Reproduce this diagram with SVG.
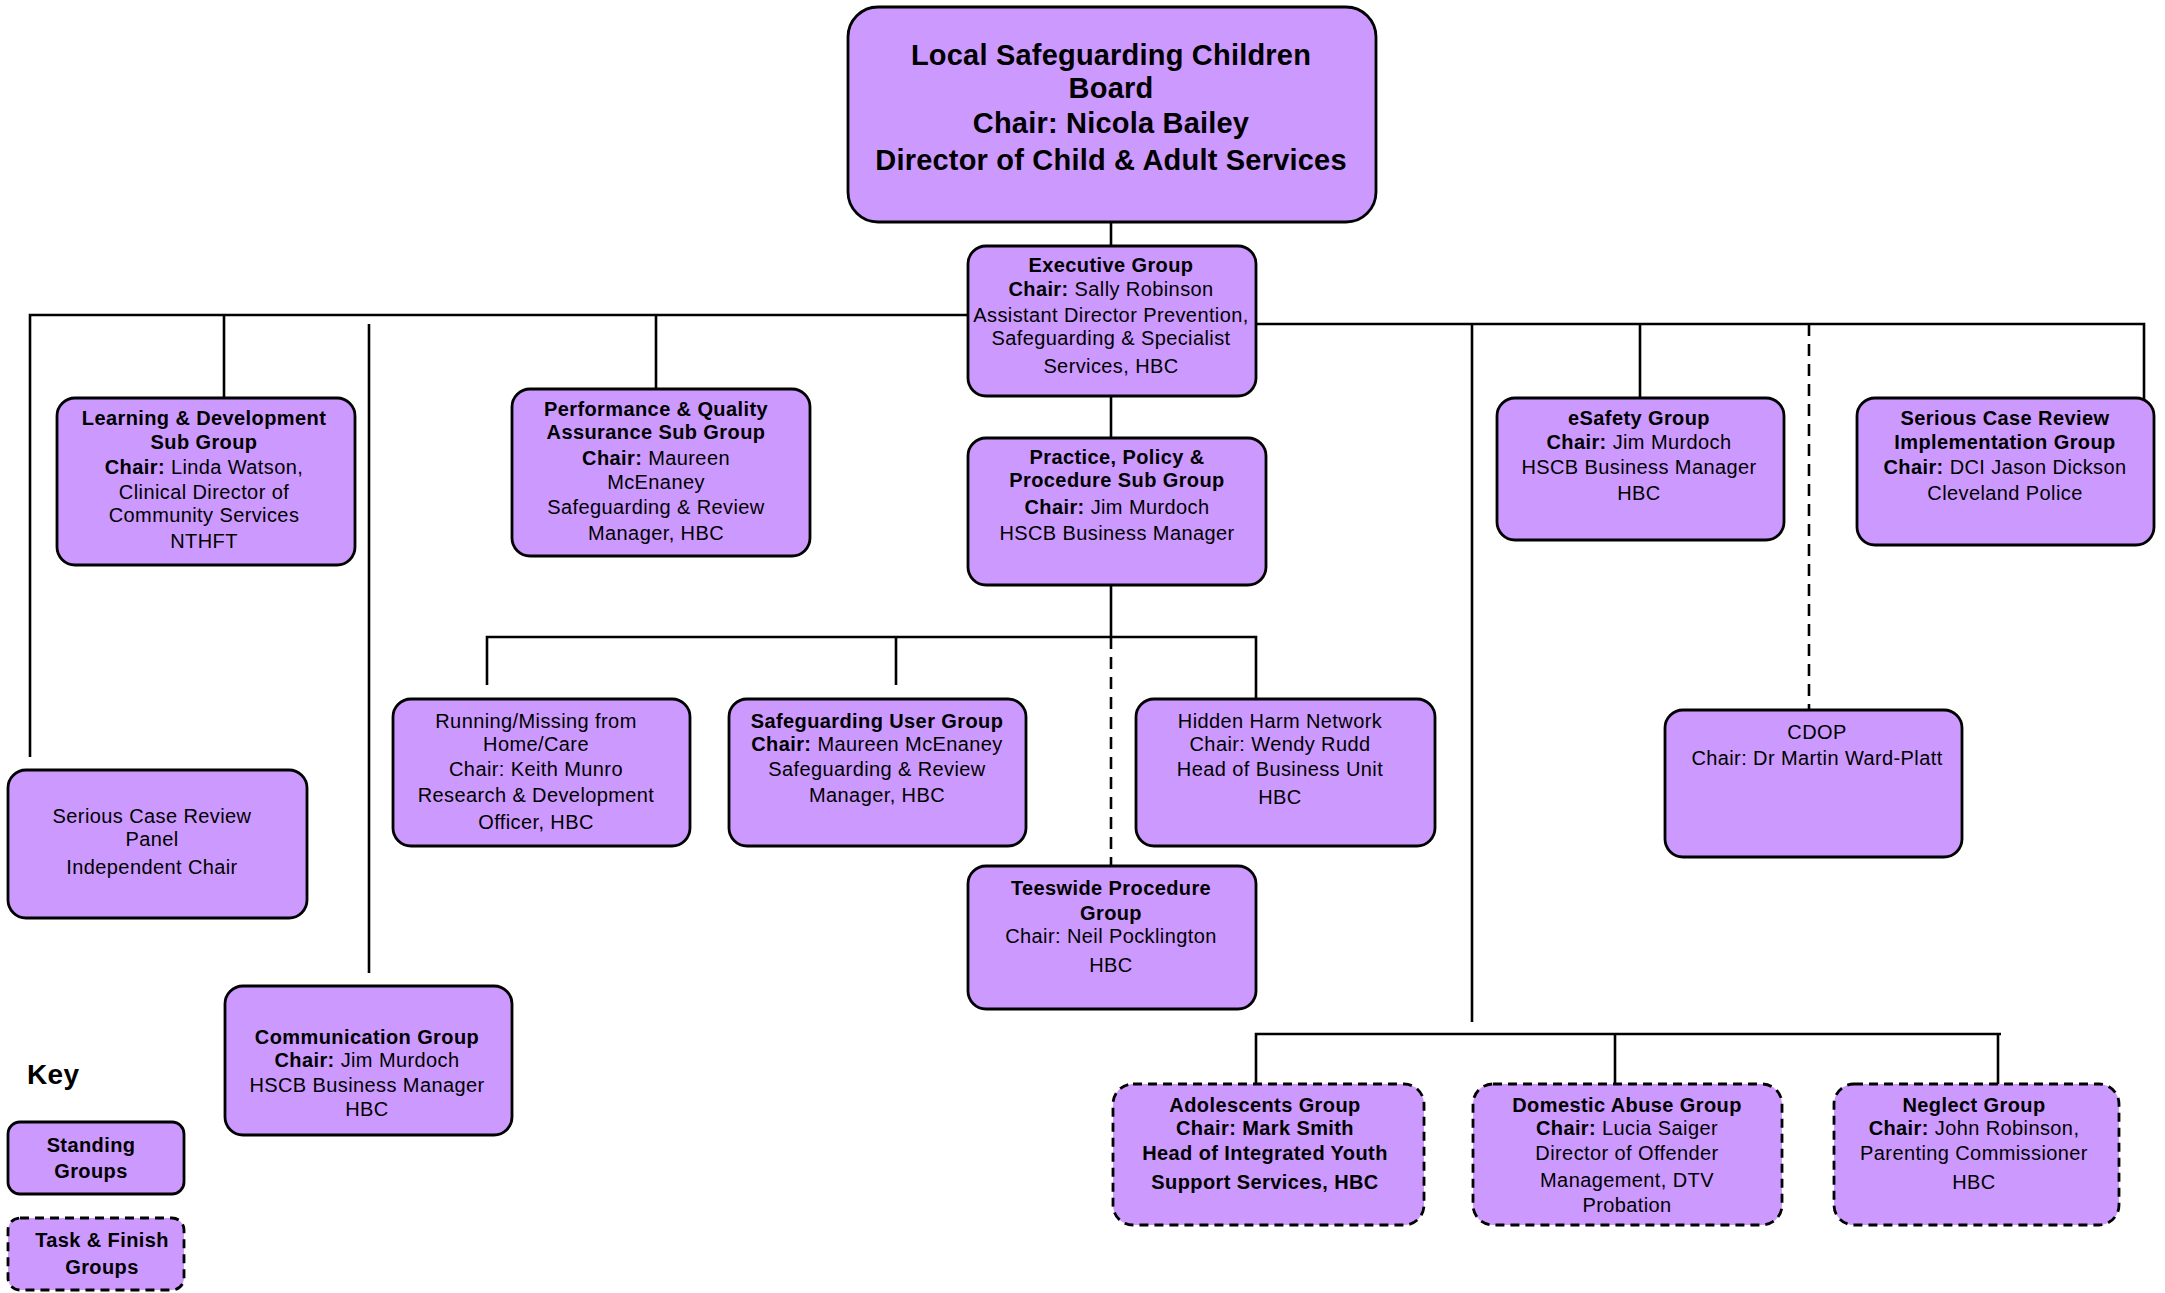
<svg xmlns="http://www.w3.org/2000/svg" width="2165" height="1293" viewBox="0 0 2165 1293">
<style>
.box{fill:#CC99FF;stroke:#000;stroke-width:2.8}
.tf{fill:#CC99FF;stroke:#000;stroke-width:2.8;stroke-dasharray:9 6}
.ln{fill:none;stroke:#000;stroke-width:2.6}
.dl{fill:none;stroke:#000;stroke-width:2.6;stroke-dasharray:12 8}
text{font-family:"Liberation Sans",Arial,sans-serif;font-size:20px;letter-spacing:0.4px;fill:#000;text-anchor:middle}
.b{font-weight:bold}
.big{font-size:29px;font-weight:bold;letter-spacing:0.2px}
.key{font-size:28px;font-weight:bold;text-anchor:start}
</style>
<rect width="2165" height="1293" fill="#fff"/>
<g id="connectors">
<line class="ln" x1="1111" y1="222" x2="1111" y2="246"/>
<line class="ln" x1="1111" y1="396" x2="1111" y2="438"/>
<polyline class="ln" points="968,315 30,315 30,757"/>
<line class="ln" x1="224" y1="315" x2="224" y2="398"/>
<line class="ln" x1="656" y1="315" x2="656" y2="389"/>
<line class="ln" x1="369" y1="324" x2="369" y2="973"/>
<polyline class="ln" points="1256,324 2144,324 2144,400"/>
<line class="ln" x1="1640" y1="324" x2="1640" y2="398"/>
<line class="dl" x1="1809" y1="324" x2="1809" y2="710"/>
<line class="ln" x1="1472" y1="324" x2="1472" y2="1022"/>
<polyline class="ln" points="1256,1084 1256,1034 2001,1034"/>
<line class="ln" x1="1615" y1="1034" x2="1615" y2="1084"/>
<line class="ln" x1="1998" y1="1034" x2="1998" y2="1084"/>
<line class="ln" x1="1111" y1="585" x2="1111" y2="637"/>
<polyline class="ln" points="487,685 487,637 1256,637 1256,699"/>
<line class="ln" x1="896" y1="637" x2="896" y2="685"/>
<line class="dl" x1="1111" y1="637" x2="1111" y2="866"/>
</g>
<g id="lscb">
<rect class="box" x="848" y="7" width="528" height="215" rx="30"/>
<text class="big" x="1111" y="65">Local Safeguarding Children</text>
<text class="big" x="1111" y="98">Board</text>
<text class="big" x="1111" y="133">Chair: Nicola Bailey</text>
<text class="big" x="1111" y="170">Director of Child &amp; Adult Services</text>
</g>
<g id="executive">
<rect class="box" x="968" y="246" width="288" height="150" rx="18"/>
<text class="b" x="1111" y="272">Executive Group</text>
<text x="1111" y="296"><tspan class="b">Chair:</tspan> Sally Robinson</text>
<text x="1111" y="322">Assistant Director Prevention,</text>
<text x="1111" y="345">Safeguarding &amp; Specialist</text>
<text x="1111" y="373">Services, HBC</text>
</g>
<g id="learning">
<rect class="box" x="57" y="398" width="298" height="167" rx="18"/>
<text class="b" x="204" y="425">Learning &amp; Development</text>
<text class="b" x="204" y="449">Sub Group</text>
<text x="204" y="474"><tspan class="b">Chair:</tspan> Linda Watson,</text>
<text x="204" y="499">Clinical Director of</text>
<text x="204" y="522">Community Services</text>
<text x="204" y="548">NTHFT</text>
</g>
<g id="performance">
<rect class="box" x="512" y="389" width="298" height="167" rx="18"/>
<text class="b" x="656" y="416">Performance &amp; Quality</text>
<text class="b" x="656" y="439">Assurance Sub Group</text>
<text x="656" y="465"><tspan class="b">Chair:</tspan> Maureen</text>
<text x="656" y="489">McEnaney</text>
<text x="656" y="514">Safeguarding &amp; Review</text>
<text x="656" y="540">Manager, HBC</text>
</g>
<g id="practice">
<rect class="box" x="968" y="438" width="298" height="147" rx="18"/>
<text class="b" x="1117" y="464">Practice, Policy &amp;</text>
<text class="b" x="1117" y="487">Procedure Sub Group</text>
<text x="1117" y="514"><tspan class="b">Chair:</tspan> Jim Murdoch</text>
<text x="1117" y="540">HSCB Business Manager</text>
</g>
<g id="esafety">
<rect class="box" x="1497" y="398" width="287" height="142" rx="18"/>
<text class="b" x="1639" y="425">eSafety Group</text>
<text x="1639" y="449"><tspan class="b">Chair:</tspan> Jim Murdoch</text>
<text x="1639" y="474">HSCB Business Manager</text>
<text x="1639" y="500">HBC</text>
</g>
<g id="scr-implementation">
<rect class="box" x="1857" y="398" width="297" height="147" rx="18"/>
<text class="b" x="2005" y="425">Serious Case Review</text>
<text class="b" x="2005" y="449">Implementation Group</text>
<text x="2005" y="474"><tspan class="b">Chair:</tspan> DCI Jason Dickson</text>
<text x="2005" y="500">Cleveland Police</text>
</g>
<g id="scr-panel">
<rect class="box" x="8" y="770" width="299" height="148" rx="18"/>
<text x="152" y="823">Serious Case Review</text>
<text x="152" y="846">Panel</text>
<text x="152" y="874">Independent Chair</text>
</g>
<g id="running-missing">
<rect class="box" x="393" y="699" width="297" height="147" rx="18"/>
<text x="536" y="728">Running/Missing from</text>
<text x="536" y="751">Home/Care</text>
<text x="536" y="776">Chair: Keith Munro</text>
<text x="536" y="802">Research &amp; Development</text>
<text x="536" y="829">Officer, HBC</text>
</g>
<g id="safeguarding-user">
<rect class="box" x="729" y="699" width="297" height="147" rx="18"/>
<text class="b" x="877" y="728">Safeguarding User Group</text>
<text x="877" y="751"><tspan class="b">Chair:</tspan> Maureen McEnaney</text>
<text x="877" y="776">Safeguarding &amp; Review</text>
<text x="877" y="802">Manager, HBC</text>
</g>
<g id="hidden-harm">
<rect class="box" x="1136" y="699" width="299" height="147" rx="18"/>
<text x="1280" y="728">Hidden Harm Network</text>
<text x="1280" y="751">Chair: Wendy Rudd</text>
<text x="1280" y="776">Head of Business Unit</text>
<text x="1280" y="804">HBC</text>
</g>
<g id="teeswide">
<rect class="box" x="968" y="866" width="288" height="143" rx="18"/>
<text class="b" x="1111" y="895">Teeswide Procedure</text>
<text class="b" x="1111" y="920">Group</text>
<text x="1111" y="943">Chair: Neil Pocklington</text>
<text x="1111" y="972">HBC</text>
</g>
<g id="cdop">
<rect class="box" x="1665" y="710" width="297" height="147" rx="18"/>
<text x="1817" y="739">CDOP</text>
<text x="1817" y="765">Chair: Dr Martin Ward-Platt</text>
</g>
<g id="communication">
<rect class="box" x="225" y="986" width="287" height="149" rx="18"/>
<text class="b" x="367" y="1044">Communication Group</text>
<text x="367" y="1067"><tspan class="b">Chair:</tspan> Jim Murdoch</text>
<text x="367" y="1092">HSCB Business Manager</text>
<text x="367" y="1116">HBC</text>
</g>
<g id="adolescents">
<rect class="tf" x="1113" y="1084" width="311" height="141" rx="20"/>
<text class="b" x="1265" y="1112">Adolescents Group</text>
<text class="b" x="1265" y="1135">Chair: Mark Smith</text>
<text class="b" x="1265" y="1160">Head of Integrated Youth</text>
<text class="b" x="1265" y="1189">Support Services, HBC</text>
</g>
<g id="domestic-abuse">
<rect class="tf" x="1473" y="1084" width="309" height="141" rx="20"/>
<text class="b" x="1627" y="1112">Domestic Abuse Group</text>
<text x="1627" y="1135"><tspan class="b">Chair:</tspan> Lucia Saiger</text>
<text x="1627" y="1160">Director of Offender</text>
<text x="1627" y="1187">Management, DTV</text>
<text x="1627" y="1212">Probation</text>
</g>
<g id="neglect">
<rect class="tf" x="1834" y="1084" width="285" height="141" rx="20"/>
<text class="b" x="1974" y="1112">Neglect Group</text>
<text x="1974" y="1135"><tspan class="b">Chair:</tspan> John Robinson,</text>
<text x="1974" y="1160">Parenting Commissioner</text>
<text x="1974" y="1189">HBC</text>
</g>
<g id="key">
<text class="key" x="27" y="1084">Key</text>
<rect class="box" x="8" y="1122" width="176" height="72" rx="12"/>
<text class="b" x="91" y="1152">Standing</text>
<text class="b" x="91" y="1178">Groups</text>
<rect class="tf" x="8" y="1218" width="176" height="72" rx="12"/>
<text class="b" x="102" y="1247">Task &amp; Finish</text>
<text class="b" x="102" y="1274">Groups</text>
</g>
</svg>
